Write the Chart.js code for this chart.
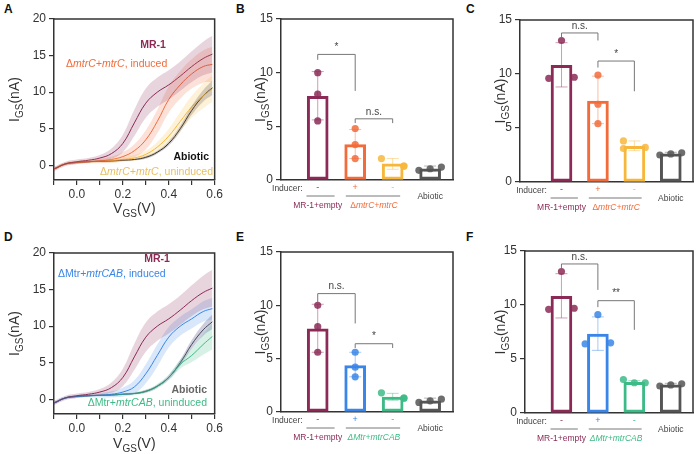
<!DOCTYPE html>
<html><head><meta charset="utf-8">
<script src="https://cdn.jsdelivr.net/npm/chart.js@4.4.0/dist/chart.umd.min.js"></script>
<style>
body{margin:0;background:#fff;width:700px;height:454px;position:relative;overflow:hidden;font-family:"Liberation Sans",Arial,sans-serif}
canvas{position:absolute}
.lab{position:absolute;font:bold 12px "Liberation Sans",Arial,sans-serif;color:#111}
</style></head><body>
<div class="lab" style="left:4px;top:2px">A</div>
<div class="lab" style="left:236px;top:2px">B</div>
<div class="lab" style="left:466px;top:2px">C</div>
<div class="lab" style="left:4px;top:230px">D</div>
<div class="lab" style="left:236px;top:230px">E</div>
<div class="lab" style="left:466px;top:230px">F</div>
<canvas id="cA"></canvas><canvas id="cB"></canvas><canvas id="cC"></canvas>
<canvas id="cD"></canvas><canvas id="cE"></canvas><canvas id="cF"></canvas>
<script>
// ---- colours ----
const cMR = '#8b2a56', cInd = '#f26b3a', cUn = '#f7b73b', cAb = '#555555', cBlue = '#3a86e8', cGreen = '#3dbb86';
// ---- IV curves (x = VGS) ----
const vgs = [-0.1, -0.05, 0, 0.05, 0.1, 0.15, 0.2, 0.25, 0.3, 0.35, 0.4, 0.45, 0.5, 0.55, 0.59];
const mr1 = [-0.5, 0.2, 0.5, 0.7, 1.0, 1.6, 3.0, 5.8, 8.5, 10.0, 11.0, 12.2, 13.5, 14.6, 15.2];
const mr1W = [0.3, 0.3, 0.3, 0.3, 0.4, 0.7, 1.2, 1.8, 2.0, 2.0, 2.0, 2.0, 2.1, 2.3, 2.5];
const mtrCInd = [-0.5, 0.2, 0.4, 0.5, 0.6, 0.8, 1.2, 2.0, 3.5, 6.0, 9.0, 11.0, 12.5, 13.5, 13.8];
const mtrCIndW = [0.2, 0.2, 0.2, 0.2, 0.3, 0.4, 0.6, 0.9, 1.3, 1.6, 1.8, 1.9, 2.0, 2.2, 2.4];
const mtrCUn = [-0.5, 0.2, 0.4, 0.5, 0.6, 0.65, 0.8, 1.0, 1.5, 2.5, 4.0, 6.0, 8.0, 9.5, 10.5];
const mtrCUnW = [0.2, 0.2, 0.2, 0.2, 0.2, 0.3, 0.3, 0.4, 0.5, 0.7, 1.0, 1.3, 1.5, 1.7, 1.8];
const abiotic = [-0.5, 0.2, 0.4, 0.5, 0.55, 0.6, 0.7, 0.8, 1.1, 1.8, 3.0, 5.0, 7.5, 9.5, 10.6];
const abioticW = [0.1, 0.1, 0.1, 0.1, 0.1, 0.1, 0.1, 0.1, 0.2, 0.2, 0.3, 0.4, 0.6, 0.8, 1.0];
const mtrCABInd = [-0.5, 0.2, 0.4, 0.5, 0.55, 0.7, 1.0, 1.7, 3.5, 6.0, 8.5, 10.0, 11.0, 12.0, 12.4];
const mtrCABIndW = [0.2, 0.2, 0.2, 0.2, 0.3, 0.4, 0.6, 0.9, 1.3, 1.5, 1.4, 1.3, 1.3, 1.4, 1.5];
const mtrCABUn = [-0.5, 0.2, 0.4, 0.5, 0.55, 0.6, 0.7, 0.8, 1.1, 1.8, 3.0, 4.8, 6.0, 7.5, 8.6];
const mtrCABUnW = [0.1, 0.1, 0.1, 0.1, 0.1, 0.1, 0.1, 0.2, 0.2, 0.3, 0.4, 0.6, 0.9, 1.4, 1.8];
const vTicks = ['0.0', '0.2', '0.4', '0.6'];
const yTicksLine = [0, 5, 10, 15, 20];
// ---- bar panels: mean, error low/high, replicate points, jitter ----
const bMean = [7.8, 3.3, 1.5, 1.05];
const bErr = [[5.6, 10.1], [2.0, 4.7], [1.0, 2.0], [0.85, 1.3]];
const bPts = [[10.0, 8.0, 5.5], [4.8, 3.3, 2.0], [2.0, 1.3, 1.3], [0.9, 1.05, 1.2]];
const bJit = [[0, 0, 0], [0, 0, 0], [-0.3, 0.3, 0.3], [-0.3, 0, 0.3]];
const cMean = [10.8, 7.5, 3.3, 2.6];
const cErr = [[8.8, 12.9], [5.4, 9.8], [2.9, 3.8], [2.45, 2.75]];
const cPts = [[13.1, 9.6, 9.7], [9.9, 7.2, 5.4], [3.8, 3.1, 3.2], [2.5, 2.6, 2.7]];
const cJit = [[0, -0.35, 0.35], [0, 0, 0], [-0.3, -0.3, 0.3], [-0.3, 0, 0.3]];
const eMean = [7.8, 4.35, 1.4, 1.05];
const eErr = [[5.6, 10.1], [3.3, 5.6], [1.1, 1.75], [0.85, 1.3]];
const ePts = [[10.0, 8.0, 5.6], [5.6, 4.2, 3.3], [1.8, 1.3, 1.3], [0.9, 1.05, 1.2]];
const eJit = [[0, 0, 0], [0, 0, 0], [-0.3, 0.3, 0.3], [-0.3, 0, 0.3]];
const fMean = [10.8, 7.3, 2.85, 2.6];
const fErr = [[8.8, 12.9], [5.8, 8.9], [2.7, 3.0], [2.45, 2.75]];
const fPts = [[13.1, 9.6, 9.7], [9.1, 6.4, 6.5], [3.1, 2.8, 2.8], [2.5, 2.6, 2.7]];
const fJit = [[0, -0.35, 0.35], [0, -0.35, 0.35], [-0.3, 0, 0.3], [-0.3, 0, 0.3]];
const yTicksBar = [0, 5, 10, 15];
const inducer = ['-', '+', '-'];

const FONT = '"Liberation Sans", Arial, sans-serif';
const TXT = '#333';

function place(id, L, T, W, H) {
    const c = document.getElementById(id);
    c.style.left = L + 'px'; c.style.top = T + 'px';
    c.style.width = W + 'px'; c.style.height = H + 'px';
    c.width = W; c.height = H;
    return c;
}
function alpha(hex, a) {
    const n = parseInt(hex.slice(1), 16);
    return `rgba(${n >> 16},${(n >> 8) & 255},${n & 255},${a})`;
}
// draws text runs [[text, italic]] starting at x (or ending at x for align right)
function runs(ctx, parts, x, y, size, color, weight, align) {
    ctx.save();
    ctx.fillStyle = color; ctx.textBaseline = 'middle';
    const f = it => `${it ? 'italic ' : ''}${weight} ${size}px ${FONT}`;
    let total = 0;
    parts.forEach(p => { ctx.font = f(p[1]); total += ctx.measureText(p[0]).width });
    let cx = align == 'right' ? x - total : align == 'center' ? x - total / 2 : x;
    parts.forEach(p => { ctx.font = f(p[1]); ctx.textAlign = 'left'; ctx.fillText(p[0], cx, y); cx += ctx.measureText(p[0]).width });
    ctx.restore();
}
// I_GS(nA) or V_GS(V) with subscript
function subTitle(ctx, main, sub, rest, x, y, rot) {
    ctx.save();
    ctx.translate(x, y); if (rot) ctx.rotate(-Math.PI / 2);
    ctx.fillStyle = TXT; ctx.textBaseline = 'alphabetic'; ctx.textAlign = 'left';
    ctx.font = `14px ${FONT}`; const w1 = ctx.measureText(main).width;
    ctx.font = `10px ${FONT}`; const w2 = ctx.measureText(sub).width;
    ctx.font = `14px ${FONT}`; const w3 = ctx.measureText(rest).width;
    let cx = -(w1 + w2 + w3) / 2;
    ctx.fillText(main, cx, 5); cx += w1;
    ctx.font = `10px ${FONT}`; ctx.fillText(sub, cx, 9); cx += w2;
    ctx.font = `14px ${FONT}`; ctx.fillText(rest, cx, 5);
    ctx.restore();
}
function frame(ctx, a) {
    ctx.save(); ctx.strokeStyle = '#333'; ctx.lineWidth = 1.5;
    ctx.beginPath(); ctx.moveTo(a.left, a.top); ctx.lineTo(a.right, a.top); ctx.lineTo(a.right, a.bottom); ctx.stroke();
    ctx.restore();
}
function yAxis(min, max, ticks, yw) {
    return {
        min: min, max: max,
        afterFit: s => { s.width = yw },
        afterBuildTicks: s => { s.ticks = ticks.map(v => ({ value: v })) },
        ticks: { color: TXT, font: { size: 12, family: FONT }, padding: 3 },
        grid: { drawOnChartArea: false, tickLength: 5, color: '#333', lineWidth: 1.2 },
        border: { color: '#333', width: 1.5 }
    };
}

// ---------------- line panels ----------------
function linePanel(id, L, T, W, H, pad, series, labels, titleX, titleY) {
    const ds = [];
    series.forEach(s => {
        ds.push({ data: vgs.map((x, i) => ({ x: x, y: s.v[i] - s.w[i] })), borderWidth: 0, pointRadius: 0, fill: false, tension: 0.4 });
        ds.push({ data: vgs.map((x, i) => ({ x: x, y: s.v[i] + s.w[i] })), borderWidth: 0, pointRadius: 0, fill: '-1', backgroundColor: alpha(s.c, 0.2), tension: 0.4 });
    });
    series.forEach(s => {
        ds.push({ data: vgs.map((x, i) => ({ x: x, y: s.v[i] })), borderColor: s.c, borderWidth: 1, pointRadius: 0, fill: false, tension: 0.4 });
    });
    new Chart(place(id, L, T, W, H), {
        type: 'line',
        data: { datasets: ds },
        options: {
            responsive: false, animation: false,
            layout: { padding: { top: pad[0], right: pad[1], left: 0, bottom: 0 } },
            plugins: { legend: { display: false }, tooltip: { enabled: false } },
            scales: {
                x: {
                    type: 'linear', min: -0.1, max: 0.6,
                    afterFit: s => { s.height = pad[2] },
                    afterBuildTicks: s => { s.ticks = [-0.1, 0, 0.1, 0.2, 0.3, 0.4, 0.5, 0.6].map(v => ({ value: v })) },
                    ticks: {
                        color: TXT, font: { size: 12, family: FONT }, padding: 2, autoSkip: false, maxRotation: 0,
                        callback: v => { const k = Math.round(v * 10); return k >= 0 && k % 2 == 0 ? vTicks[k / 2] : '' }
                    },
                    grid: { drawOnChartArea: false, tickLength: 5, color: '#333', lineWidth: 1.2 },
                    border: { color: '#333', width: 1.5 }
                },
                y: yAxis(-2, 20, yTicksLine, pad[3])
            }
        },
        plugins: [{
            id: 'deco',
            afterDraw: ch => {
                const ctx = ch.ctx, a = ch.chartArea;
                frame(ctx, a);
                labels.forEach(l => runs(ctx, l.t, l.x, l.y, 10.5, l.c, l.b ? 'bold' : 'normal', l.a));
                subTitle(ctx, 'I', 'GS', '(nA)', titleY, (a.top + a.bottom) / 2, true);
                subTitle(ctx, 'V', 'GS', '(V)', (a.left + a.right) / 2, titleX, false);
            }
        }]
    });
}

linePanel('cA', 0, 0, 225, 225, [19, 10, 45, 54], [
    { v: mr1, w: mr1W, c: cMR }, { v: mtrCInd, w: mtrCIndW, c: cInd },
    { v: mtrCUn, w: mtrCUnW, c: cUn }, { v: abiotic, w: abioticW, c: '#222' }
], [
    { t: [['MR-1', 0]], x: 153, y: 45, c: cMR, b: 1, a: 'center' },
    { t: [['\u0394', 0], ['mtrC+mtrC', 1], [', induced', 0]], x: 66, y: 64, c: cInd, a: 'left' },
    { t: [['Abiotic', 0]], x: 209, y: 157, c: '#111', b: 1, a: 'right' },
    { t: [['\u0394', 0], ['mtrC+mtrC', 1], [', uninduced', 0]], x: 213, y: 172, c: '#e8c063', a: 'right' }
], 208, 14);

linePanel('cD', 0, 225, 225, 229, [28, 10, 40, 54], [
    { v: mr1, w: mr1W, c: cMR }, { v: mtrCABInd, w: mtrCABIndW, c: cBlue },
    { v: mtrCABUn, w: mtrCABUnW, c: cGreen }, { v: abiotic, w: abioticW, c: '#555' }
], [
    { t: [['MR-1', 0]], x: 157, y: 34, c: cMR, b: 1, a: 'center' },
    { t: [['\u0394Mtr+', 0], ['mtrCAB', 1], [', induced', 0]], x: 58, y: 49, c: cBlue, a: 'left' },
    { t: [['Abiotic', 0]], x: 207, y: 165, c: '#666', b: 1, a: 'right' },
    { t: [['\u0394Mtr+', 0], ['mtrCAB', 1], [', uninduced', 0]], x: 207, y: 178, c: cGreen, a: 'right' }
], 218, 14);

// ---------------- bar panels ----------------
function barPanel(id, L, T, W, H, pad, xr, mean, err, pts, jit, cols, strain, sig) {
    const ds = [{
        type: 'bar', data: mean.map((m, i) => ({ x: i, y: m })), backgroundColor: '#fff',
        borderColor: cols, borderWidth: 3, barThickness: 21, borderSkipped: false, order: 3
    }];
    err.forEach((e, i) => ds.push({
        type: 'line', data: [{ x: i, y: e[0] }, { x: i, y: e[1] }], borderColor: alpha(cols[i], 0.45), borderWidth: 1,
        pointStyle: 'line', pointRadius: 6, pointBorderColor: alpha(cols[i], 0.45), pointBorderWidth: 1, order: 2
    }));
    pts.forEach((p, i) => ds.push({
        type: 'scatter', data: p.map((v, k) => ({ x: i + jit[i][k], y: v })), backgroundColor: alpha(cols[i], 0.85),
        borderWidth: 0, pointRadius: 3.6, order: 1
    }));
    new Chart(place(id, L, T, W, H), {
        data: { datasets: ds },
        options: {
            responsive: false, animation: false,
            layout: { padding: { top: pad[0], right: pad[1], left: 0, bottom: 0 } },
            plugins: { legend: { display: false }, tooltip: { enabled: false } },
            scales: {
                x: {
                    type: 'linear', min: xr[0], max: xr[1], offset: false, bounds: 'data', grace: 0,
                    afterDataLimits: s => { s.min = xr[0]; s.max = xr[1] },
                    afterFit: s => { s.height = pad[2] },
                    ticks: { display: false }, grid: { display: false, offset: false },
                    border: { color: '#333', width: 1.5 }
                },
                y: yAxis(0, 15, yTicksBar, pad[3])
            }
        },
        plugins: [{
            id: 'deco',
            afterDraw: ch => {
                const ctx = ch.ctx, a = ch.chartArea, xs = ch.scales.x, ys = ch.scales.y;
                frame(ctx, a);
                // significance brackets
                ctx.save(); ctx.strokeStyle = '#777'; ctx.lineWidth = 1;
                sig.forEach(s => {
                    const x0 = xs.getPixelForValue(s.i), x1 = xs.getPixelForValue(s.i + 1), yt = ys.getPixelForValue(s.y);
                    ctx.beginPath();
                    ctx.moveTo(x0, ys.getPixelForValue(s.l)); ctx.lineTo(x0, yt); ctx.lineTo(x1, yt); ctx.lineTo(x1, ys.getPixelForValue(s.r));
                    ctx.stroke();
                    runs(ctx, [[s.t, 0]], (x0 + x1) / 2, yt - 7, 10, '#444', 'normal', 'center');
                });
                ctx.restore();
                // inducer row
                const by = a.bottom;
                runs(ctx, [['Inducer:', 0]], xs.getPixelForValue(-0.4), by + 9, 8.5, '#444', 'normal', 'right');
                inducer.forEach((t, i) => runs(ctx, [[t, 0]], xs.getPixelForValue(i), by + 8, 9, cols[i], 'normal', 'center'));
                ctx.save(); ctx.strokeStyle = '#555'; ctx.lineWidth = 0.8;
                ctx.beginPath();
                ctx.moveTo(xs.getPixelForValue(-0.3), by + 16); ctx.lineTo(xs.getPixelForValue(0.45), by + 16);
                ctx.moveTo(xs.getPixelForValue(0.75), by + 16); ctx.lineTo(xs.getPixelForValue(2.2), by + 16);
                ctx.stroke(); ctx.restore();
                runs(ctx, [['MR-1+empty', 0]], xs.getPixelForValue(0), by + 26, 8.5, cMR, 'normal', 'center');
                runs(ctx, strain, xs.getPixelForValue(1.5), by + 26, 8.5, cols[1] == cBlue ? cGreen : cInd, 'normal', 'center');
                runs(ctx, [['Abiotic', 0]], xs.getPixelForValue(3), by + 17, 8.5, '#444', 'normal', 'center');
                subTitle(ctx, 'I', 'GS', '(nA)', pad[4], (a.top + a.bottom) / 2, true);
            }
        }]
    });
}
const colsC = [cMR, cInd, cUn, cAb], colsCAB = [cMR, cBlue, cGreen, cAb];
const strC = [['\u0394', 0], ['mtrC+mtrC', 1]], strCAB = [['\u0394Mtr+', 1], ['mtrCAB', 1]];

barPanel('cB', 230, 0, 230, 225, [19, 7, 45, 51, 30], [-0.98, 3.61], bMean, bErr, bPts, bJit, colsC, strC,
    [{ i: 0, y: 11.7, l: 11.2, r: 8.3, t: '*' }, { i: 1, y: 5.7, l: 5.3, r: 5.3, t: 'n.s.' }]);
barPanel('cC', 460, 0, 240, 225, [20, 2, 43, 60, 40], [-1.14, 3.61], cMean, cErr, cPts, cJit, colsC, strC,
    [{ i: 0, y: 13.8, l: 13.4, r: 13.1, t: 'n.s.' }, { i: 1, y: 11.2, l: 10.6, r: 8.4, t: '*' }]);
barPanel('cE', 230, 225, 230, 229, [27, 7, 42, 51, 30], [-0.98, 3.61], eMean, eErr, ePts, eJit, colsCAB, strCAB,
    [{ i: 0, y: 11.1, l: 10.3, r: 8.3, t: 'n.s.' }, { i: 1, y: 6.4, l: 6.0, r: 6.0, t: '*' }]);
barPanel('cF', 460, 225, 240, 229, [26, 2, 41, 65, 40], [-1.0, 3.61], fMean, fErr, fPts, fJit, colsCAB, strCAB,
    [{ i: 0, y: 13.8, l: 13.4, r: 11.4, t: 'n.s.' }, { i: 1, y: 10.4, l: 9.8, r: 7.7, t: '**' }]);
</script>
</body></html>
